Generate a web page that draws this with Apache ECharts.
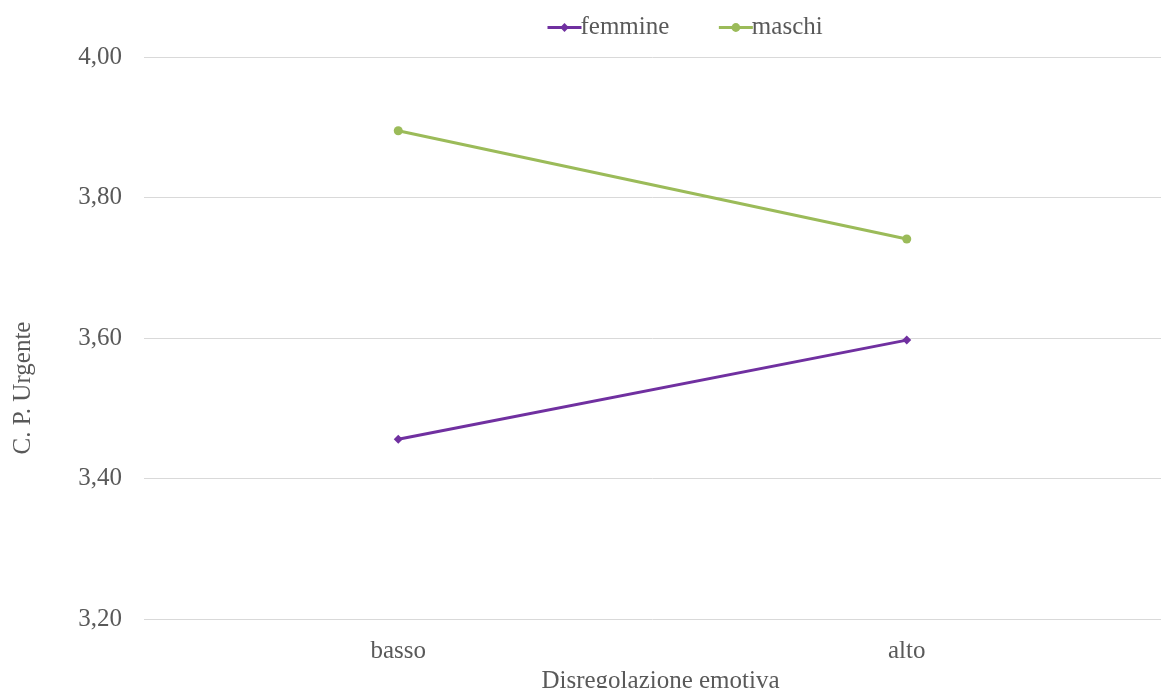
<!DOCTYPE html>
<html>
<head>
<meta charset="utf-8">
<script src="https://cdn.jsdelivr.net/npm/echarts@6/dist/echarts.min.js"></script>
<style>
  html, body { margin: 0; padding: 0; background: #fff; }
  #chart { width: 1161px; height: 688px; }
</style>
</head>
<body>
<div id="chart"></div>
<script>
// Disregolazione emotiva (basso / alto) vs C. P. Urgente, per genere
const categories = ['basso', 'alto'];
const femmine = [3.456, 3.597];
const maschi = [3.895, 3.741];
const yTicks = { min: 3.2, max: 4.0, interval: 0.2 };

const serif = '"Liberation Serif", "Times New Roman", serif';
const textColor = '#595959';
const fontSize = 25;

const chart = echarts.init(document.getElementById('chart'));
chart.setOption({
  animation: false,
  textStyle: { fontFamily: serif },
  legend: {
    top: 10,
    left: 541,
    itemGap: 48,
    itemWidth: 34,
    itemHeight: 11,
    lineStyle: { width: 3 },
    textStyle: { fontFamily: serif, fontSize: fontSize, color: textColor, padding: [0, 0, 0, -6] },
    data: ['femmine', 'maschi']
  },
  grid: { left: 144, right: 0, top: 57, bottom: 69, containLabel: false, outerBoundsMode: 'none' },
  xAxis: {
    type: 'category',
    data: categories,
    boundaryGap: true,
    axisLine: { show: false },
    axisTick: { show: false },
    axisLabel: { fontFamily: serif, fontSize: fontSize, color: textColor, margin: 20 },
    name: 'Disregolazione emotiva',
    nameLocation: 'middle',
    nameGap: 42,
    nameTextStyle: { fontFamily: serif, fontSize: fontSize, color: textColor, padding: [0, 0, 0, 16] }
  },
  yAxis: {
    type: 'value',
    min: yTicks.min,
    max: yTicks.max,
    interval: yTicks.interval,
    axisLine: { show: false },
    axisTick: { show: false },
    splitLine: { lineStyle: { color: '#d9d9d9', width: 1 } },
    axisLabel: {
      fontFamily: serif, fontSize: fontSize, color: textColor, margin: 22,
      formatter: v => v.toFixed(2).replace('.', ',')
    },
    name: 'C. P. Urgente',
    nameLocation: 'middle',
    nameRotate: 90,
    nameGap: 108,
    nameTextStyle: { fontFamily: serif, fontSize: fontSize, color: textColor, padding: [0, 100, 0, 0] }
  },
  series: [
    {
      name: 'femmine',
      type: 'line',
      data: femmine,
      symbol: 'diamond',
      symbolSize: 9,
      lineStyle: { color: '#7030A0', width: 3 },
      itemStyle: { color: '#7030A0' }
    },
    {
      name: 'maschi',
      type: 'line',
      data: maschi,
      symbol: 'circle',
      symbolSize: 9,
      lineStyle: { color: '#9BBB59', width: 3 },
      itemStyle: { color: '#9BBB59' }
    }
  ]
});
</script>
</body>
</html>
